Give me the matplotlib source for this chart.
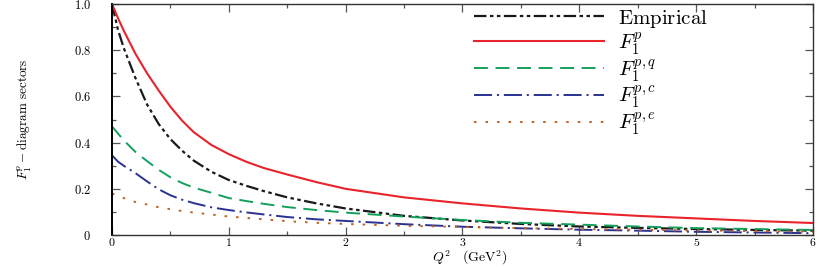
import matplotlib
matplotlib.use("Agg")
import matplotlib.pyplot as plt
from matplotlib.ticker import MultipleLocator

plt.rcParams["mathtext.fontset"] = "cm"
plt.rcParams["font.family"] = "serif"
plt.rcParams["font.serif"] = ["DejaVu Serif"]
plt.rcParams["lines.scale_dashes"] = False

# Q^2 grid (GeV^2) and curves
q2 = [0, 0.05, 0.1, 0.2, 0.3, 0.4, 0.5, 0.6, 0.7, 0.85, 1.0, 1.15, 1.3, 1.5, 1.75,
      2.0, 2.5, 3.0, 3.5, 4.0, 4.5, 5.0, 5.5, 6.0]
empirical = [1.0, 0.89, 0.81, 0.68, 0.565, 0.48, 0.415, 0.365, 0.322, 0.274, 0.238,
             0.213, 0.19, 0.163, 0.137, 0.115, 0.083, 0.063, 0.048, 0.037, 0.031,
             0.026, 0.022, 0.019]
f1p = [1.0, 0.94, 0.885, 0.785, 0.70, 0.625, 0.555, 0.495, 0.445, 0.39, 0.35,
       0.317, 0.29, 0.262, 0.229, 0.20, 0.163, 0.137, 0.115, 0.097, 0.083, 0.072,
       0.061, 0.052]
f1pq = [0.47, 0.44, 0.41, 0.36, 0.32, 0.282, 0.25, 0.225, 0.205, 0.183, 0.16,
        0.147, 0.135, 0.121, 0.108, 0.097, 0.08, 0.065, 0.053, 0.045, 0.037, 0.03,
        0.026, 0.022]
f1pc = [0.345, 0.318, 0.30, 0.268, 0.232, 0.198, 0.172, 0.153, 0.138, 0.12, 0.108,
        0.098, 0.089, 0.078, 0.068, 0.061, 0.047, 0.036, 0.029, 0.023, 0.019, 0.014,
        0.011, 0.008]
f1pe = [0.18, 0.17, 0.16, 0.143, 0.132, 0.12, 0.112, 0.104, 0.097, 0.089, 0.08,
        0.074, 0.068, 0.06, 0.053, 0.048, 0.04, 0.035, 0.03, 0.026, 0.023, 0.02,
        0.017, 0.014]

labels = [r"$\mathrm{Empirical}$", r"$F_1^{p}$", r"$F_1^{p,q}$", r"$F_1^{p,c}$", r"$F_1^{p,e}$"]
xticks = [0, 1, 2, 3, 4, 5, 6]
yticks = [0, 0.2, 0.4, 0.6, 0.8, 1.0]
xticklabels = ["0", "1", "2", "3", "4", "5", "6"]
yticklabels = ["0", "0.2", "0.4", "0.6", "0.8", "1.0"]

fig = plt.figure(figsize=(8.22, 2.68), dpi=100)
ax = fig.add_axes([0.1363, 0.123, 0.8527, 0.862])

ax.plot(q2, empirical, color="#1a1a1a", lw=1.6, dashes=(9, 2.5, 2.5, 2.5, 2.5, 2.5), label=labels[0])
ax.plot(q2, f1p, color="#e8232b", lw=1.5, label=labels[1])
ax.plot(q2, f1pq, color="#13a05c", lw=1.4, dashes=(10, 5.5), label=labels[2])
ax.plot(q2, f1pc, color="#2b3191", lw=1.4, dashes=(13, 3.5, 1.5, 3.5), label=labels[3])
ax.plot(q2, f1pe, color="#c0621f", lw=1.4, dashes=(1.8, 6.5), label=labels[4])

ax.set_xlim(0, 6)
ax.set_ylim(0, 1.0)
ax.set_xticks(xticks)
ax.set_xticklabels([f"${t}$" for t in xticklabels])
ax.set_yticks(yticks)
ax.set_yticklabels([f"${t}$" for t in yticklabels])
ax.xaxis.set_minor_locator(MultipleLocator(0.5))
ax.yaxis.set_minor_locator(MultipleLocator(0.1))
ax.tick_params(which="both", direction="in", top=True, right=True,
               color="#555555", width=0.9)
ax.tick_params(which="major", length=6)
ax.tick_params(axis="x", which="major", pad=1, labelsize=8.5)
ax.tick_params(axis="y", which="major", pad=15, labelsize=9)
ax.tick_params(which="minor", length=3)
for s in ax.spines.values():
    s.set_color("#333333")
    s.set_linewidth(1.0)
ax.spines["left"].set_color("black")
ax.spines["left"].set_linewidth(1.4)

ax.set_xlabel(r"$Q^2\quad(\mathrm{GeV}^2)$", fontsize=10)
ax.xaxis.set_label_coords(0.51, -0.06)
ax.set_ylabel(r"$F_1^p - \mathrm{diagram\ sectors}$", fontsize=9.5)
ax.yaxis.set_label_coords(-0.112, 0.5)

ax.legend(loc="upper left", bbox_to_anchor=(0.505, 1.02), frameon=False, fontsize=15,
          handlelength=6.2, handletextpad=0.7, labelspacing=0.0, borderaxespad=0)

fig.savefig("out.png", dpi=100)
